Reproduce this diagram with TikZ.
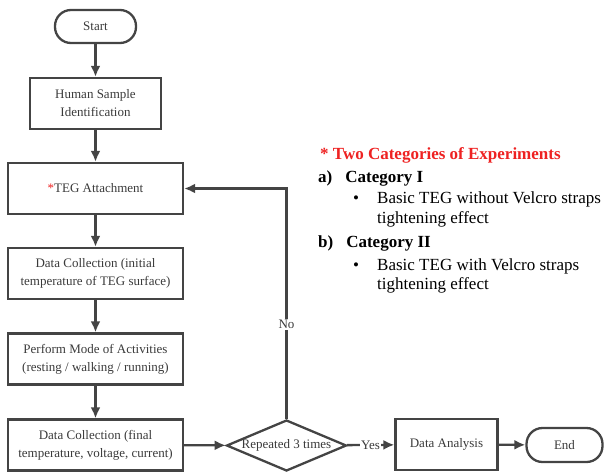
\documentclass[tikz,border=0pt]{standalone}
\usepackage{fontspec}
\setmainfont{Liberation Serif}
\usepackage{xcolor}
\usetikzlibrary{arrows.meta,positioning,shapes.geometric}

\definecolor{linegray}{HTML}{444444}
\definecolor{textgray}{HTML}{3A3A3A}
\definecolor{starred}{HTML}{EE2222}

\begin{document}
\begin{tikzpicture}[x=1pt, y=-1pt,
    box/.style={draw=linegray, line width=2.3pt, text=textgray, align=center,
        inner sep=0pt, font=\fontsize{13}{18}\selectfont},
    term/.style={box, rounded corners=16pt},
    flow/.style={-{Latex[length=11pt,width=10pt]}, line width=2.3pt, draw=linegray},
    lbl/.style={fill=white, inner sep=1pt, text=textgray, font=\fontsize{13}{15}\selectfont},
    note/.style={anchor=base west, inner sep=0pt, font=\fontsize{17}{20}\selectfont}]
    \useasboundingbox (0,0) rectangle (604,472);

    % Main column
    \node[term, minimum width=81, minimum height=33] (start) at (95.5,26.5) {Start};
    \node[box, minimum width=131, minimum height=51] (ident) at (95.5,103.5) {Human Sample\\Identification};
    \node[box, minimum width=175, minimum height=51] (attach) at (95.5,188.5) {{\color{starred}*}TEG Attachment};
    \node[box, minimum width=175, minimum height=51] (initial) at (95.5,273.5) {Data Collection (initial\\temperature of TEG surface)};
    \node[box, minimum width=175, minimum height=51] (mode) at (95.5,359) {Perform Mode of Activities\\(resting / walking / running)};
    \node[box, minimum width=175, minimum height=51] (final) at (95.5,445) {Data Collection (final\\temperature, voltage, current)};

    % Bottom row
    \node[draw=linegray, line width=2.3pt, diamond, inner sep=0pt,
        minimum width=120, minimum height=51] (repeat) at (286.5,445.5) {};
    \node[text=textgray, font=\fontsize{13}{15}\selectfont] (repeattext) at (repeat) {Repeated 3 times};
    \node[box, minimum width=102, minimum height=51] (analysis) at (446.5,444.5) {Data Analysis};
    \node[term, minimum width=76, minimum height=34] (end) at (564.5,445) {End};

    \draw[flow] (start) -- (ident);
    \draw[flow] (ident) -- (attach);
    \draw[flow] (attach) -- (initial);
    \draw[flow] (initial) -- (mode);
    \draw[flow] (mode) -- (final);
    \draw[flow] (final) -- (repeat);
    \draw[flow] (repeat) -- node[lbl] {Yes} (analysis);
    \draw[flow] (analysis) -- (end);
    \draw[flow] (repeat.north) -- node[lbl, pos=0.41] {No} (repeat.north |- attach.east) -- (attach.east);

    % Categories note
    \node[note, text=starred, font=\bfseries\fontsize{17}{20}\selectfont] (cathead) at (320,159) {* Two Categories of Experiments};
    \node[note, font=\bfseries\fontsize{17}{20}\selectfont] (cata) at (318,182) {a)\hspace{13pt}Category I};
    \node[note] (bulla) at (353,203) {\textbullet};
    \node[note] (texta) at (377,203) {Basic TEG without Velcro straps};
    \node[note] (texta2) at (377,223) {tightening effect};
    \node[note, font=\bfseries\fontsize{17}{20}\selectfont] (catb) at (318,247) {b)\hspace{13pt}Category II};
    \node[note] (bullb) at (353,270) {\textbullet};
    \node[note] (textb) at (377,270) {Basic TEG with Velcro straps};
    \node[note] (textb2) at (377,289) {tightening effect};
\end{tikzpicture}
\end{document}
